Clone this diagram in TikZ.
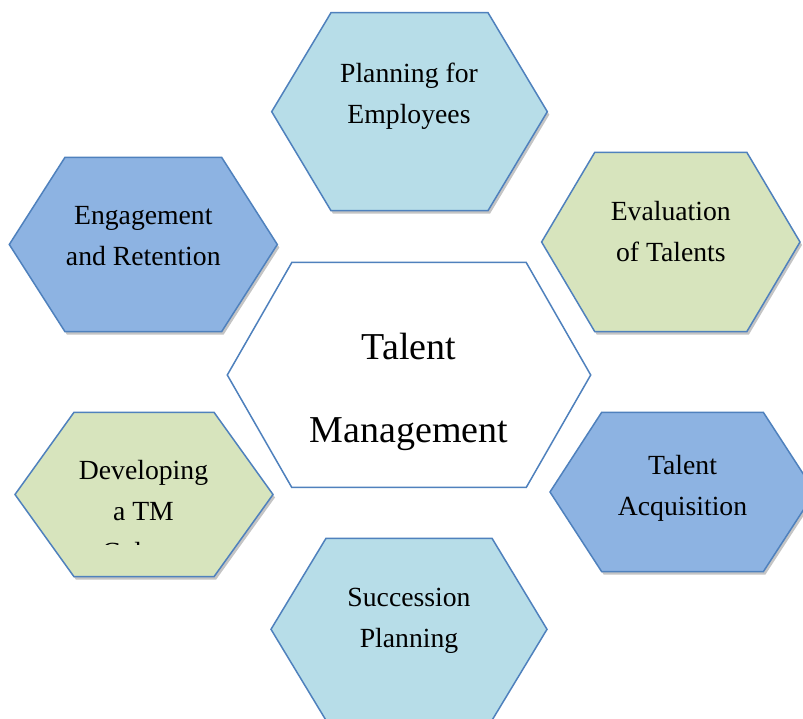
\documentclass[tikz,border=0pt]{standalone}
\usepackage{fontspec}
\setmainfont{Liberation Serif}
\definecolor{lblue}{HTML}{B7DDE8}
\definecolor{mblue}{HTML}{8DB3E2}
\definecolor{lgreen}{HTML}{D7E4BD}
\definecolor{hexedge}{HTML}{4F81BD}
\definecolor{shadowgrey}{HTML}{C4C4C4}
% #1 style, #2 name, #3 cx, #4 cy (px from top), #5 half width, #6 half top edge, #7 half height
\newcommand{\hexa}[7]{%
  \path[#1] ({#3-#5},{718-#4}) coordinate (#2-w)
    -- ({#3-#6},{718-#4+#7}) coordinate (#2-nw)
    -- ({#3+#6},{718-#4+#7}) coordinate (#2-ne)
    -- ({#3+#5},{718-#4}) coordinate (#2-e)
    -- ({#3+#6},{718-#4-#7}) coordinate (#2-se)
    -- ({#3-#6},{718-#4-#7}) coordinate (#2-sw)
    -- cycle;}
\tikzset{
  hexshadow/.style={fill=shadowgrey, shift={(2,-3)}},
  hexbox/.style={fill=#1, draw=hexedge, line width=1.5pt, line join=miter},
  smalltxt/.style={font=\fontsize{27.7}{41}\selectfont, align=center, inner sep=0pt, text=black},
  bigtxt/.style={font=\fontsize{38}{83}\selectfont, align=center, inner sep=0pt, text=black}
}
\begin{document}
\begin{tikzpicture}[x=1pt,y=1pt]
\useasboundingbox (0,0) rectangle (803,718);
\clip (0,0) rectangle (803,718);
\fill[white] (0,0) rectangle (803,718);
% shadows
\hexa{hexshadow}{splan}{409.5}{111.7}{137.8}{78.5}{99}
\hexa{hexshadow}{seng}{143.3}{244.5}{134}{78.3}{87.2}
\hexa{hexshadow}{seval}{670.8}{242}{129.2}{76}{89.7}
\hexa{hexshadow}{sdev}{144}{494.5}{129}{70}{82.2}
\hexa{hexshadow}{sacq}{682.5}{492}{132.5}{80.8}{79.7}
% hexagons
\hexa{hexbox=lblue}{plan}{409.5}{111.7}{137.8}{78.5}{99}
\hexa{hexbox=mblue}{eng}{143.3}{244.5}{134}{78.3}{87.2}
\hexa{hexbox=lgreen}{eval}{670.8}{242}{129.2}{76}{89.7}
\hexa{hexbox=white}{tm}{409}{375}{181.7}{117.2}{112.5}
\hexa{hexbox=lgreen}{dev}{144}{494.5}{129}{70}{82.2}
\hexa{hexbox=mblue}{acq}{682.5}{492}{132.5}{80.8}{79.7}
\hexa{hexbox=lblue}{succ}{409}{629.3}{138}{83}{91}
% texts
\node[smalltxt] (tplan) at (409,{718-96.5}) {Planning for\\Employees};
\node[smalltxt] (teng) at (143.3,{718-236.5}) {Engagement\\and Retention};
\node[smalltxt] (teval) at (670.8,{718-231.5}) {Evaluation\\of Talents};
\node[smalltxt] (tacq) at (682.5,{718-488}) {Talent\\Acquisition};
\node[smalltxt] (tsucc) at (409,{718-620.5}) {Succession\\Planning};
\node[bigtxt] (ttm) at (409,{718-392}) {Talent\\Management};
\begin{scope}
  \clip (0,{718-544}) rectangle (290,{718-420});
  \node[smalltxt] (tdev) at (143.5,{718-511}) {Developing\\a TM\\Culture};
\end{scope}
\end{tikzpicture}
\end{document}
